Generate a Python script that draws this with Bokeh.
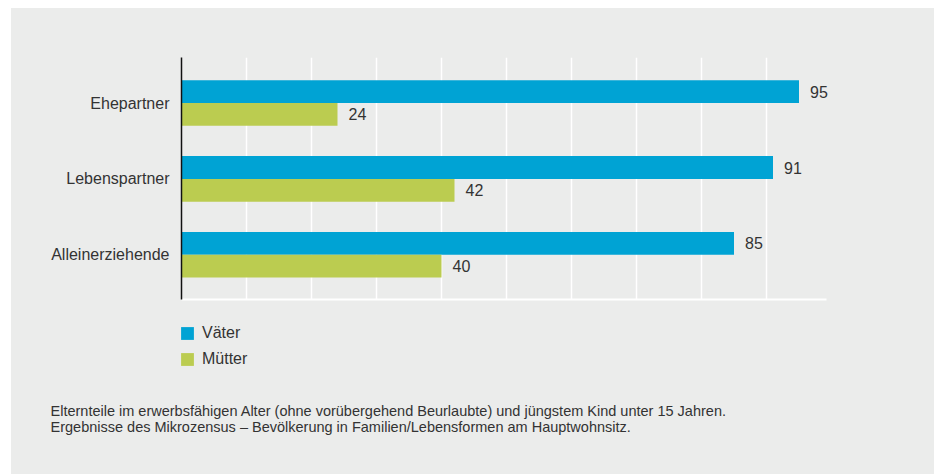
from bokeh.plotting import figure
from bokeh.models import ColumnDataSource, Range1d, FixedTicker, Legend, LegendItem, Label
from bokeh.layouts import column
from bokeh.core.properties import value
from bokeh.embed import file_html
from bokeh.resources import INLINE

# ---- data ----
categories = ["Ehepartner", "Lebenspartner", "Alleinerziehende"]
vaeter = [95, 91, 85]
muetter = [24, 42, 40]
series_names = ["Väter", "Mütter"]
grid_ticks = [10, 20, 30, 40, 50, 60, 70, 80, 90]
footnote_lines = [
    "Elternteile im erwerbsfähigen Alter (ohne vorübergehend Beurlaubte) und jüngstem Kind unter 15 Jahren.",
    "Ergebnisse des Mikrozensus – Bevölkerung in Familien/Lebensformen am Hauptwohnsitz.",
]

# ---- style ----
BG = "#EBECEB"
BLUE = "#00A3D4"
GREEN = "#BBCC50"
TXT = "#333333"
FONT = "Liberation Sans"
W = 923

n = len(categories)
ypos = [n - 1 - i for i in range(n)]  # first category on top
bar_h = 0.3

src_v = ColumnDataSource(dict(y=[y + bar_h / 2 for y in ypos], v=vaeter,
                              lab=[str(v) for v in vaeter]))
src_m = ColumnDataSource(dict(y=[y - bar_h / 2 for y in ypos], v=muetter,
                              lab=[str(v) for v in muetter]))

# ---------------- chart ----------------
p = figure(width=W, height=300, output_backend="svg", toolbar_location=None,
           x_range=Range1d(0, 102), y_range=Range1d(-0.59, 2.60),
           min_border_left=170, min_border_right=90, min_border_top=49,
           min_border_bottom=9, frame_align=False)
p.background_fill_color = BG
p.border_fill_color = BG
p.outline_line_color = None

p.hbar(y="y", right="v", left=0, height=bar_h, source=src_v,
       fill_color=BLUE, line_color=None)
p.hbar(y="y", right="v", left=0, height=bar_h, source=src_m,
       fill_color=GREEN, line_color=None)

for s in (src_v, src_m):
    p.text(x="v", y="y", text="lab", source=s, x_offset=11,
           text_baseline="middle", text_align="left",
           text_font_size="16px", text_color=TXT, text_font=value(FONT))

p.xaxis.ticker = FixedTicker(ticks=[])
p.xaxis.bounds = (0, 99.2)
p.xaxis.major_tick_out = 0
p.xaxis.major_tick_in = 0
p.xaxis.major_label_standoff = 0
p.xaxis.minor_tick_line_color = None
p.xaxis.axis_line_color = "white"
p.xaxis.axis_line_width = 2

p.yaxis.ticker = FixedTicker(ticks=ypos)
p.yaxis.major_label_overrides = {y: c for y, c in zip(ypos, categories)}
p.yaxis.major_label_text_font_size = "16px"
p.yaxis.major_label_text_color = TXT
p.yaxis.major_label_text_font = FONT
p.yaxis.major_label_standoff = 12
p.yaxis.major_tick_out = 0
p.yaxis.major_tick_in = 0
p.yaxis.minor_tick_line_color = None
p.yaxis.axis_line_color = "#111111"
p.yaxis.axis_line_width = 1.5

p.xgrid.ticker = FixedTicker(ticks=grid_ticks)
p.xgrid.grid_line_color = "white"
p.xgrid.grid_line_width = 1.5
p.ygrid.grid_line_color = None

# ---------------- legend + footnote ----------------
H2 = 166
q = figure(width=W, height=H2, output_backend="svg", toolbar_location=None,
           x_range=Range1d(0, W), y_range=Range1d(H2, 0),
           min_border=0, x_axis_type=None, y_axis_type=None, frame_align=False)
q.background_fill_color = BG
q.border_fill_color = BG
q.outline_line_color = None
q.grid.visible = False

lv = q.hbar(y="y", right="v", left=0, height=bar_h, source=src_v,
            fill_color=BLUE, line_color=None, visible=False)
lm = q.hbar(y="y", right="v", left=0, height=bar_h, source=src_m,
            fill_color=GREEN, line_color=None, visible=False)

legend = Legend(items=[LegendItem(label=series_names[0], renderers=[lv]),
                       LegendItem(label=series_names[1], renderers=[lm])],
                location=(168, 106), orientation="vertical",
                glyph_width=16, glyph_height=16, label_standoff=7,
                spacing=8, padding=0, margin=0,
                background_fill_alpha=0, border_line_color=None,
                inactive_fill_alpha=0,
                label_text_font_size="16px", label_text_color=TXT,
                label_text_font=FONT)
q.add_layout(legend, "center")

for i, line in enumerate(footnote_lines):
    q.add_layout(Label(x=39, y=102.5 + 15.5 * i, text=line, text_font_size="14.5px",
                       text_color=TXT, text_font=FONT, text_baseline="middle"))

layout = column(p, q, spacing=0, margin=(8, 0, 0, 11),
                styles={"background-color": BG})
open("out.html", "w").write(file_html(layout, INLINE))
